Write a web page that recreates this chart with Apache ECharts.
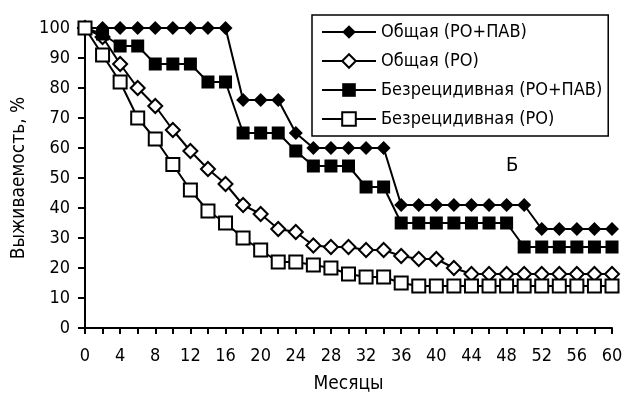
<!DOCTYPE html>
<html>
<head>
<meta charset="utf-8">
<script src="https://cdn.jsdelivr.net/npm/echarts@6/dist/echarts.min.js"></script>
<style>
  html, body { margin: 0; padding: 0; background: #fff; }
  #chart { width: 624px; height: 394px; }
</style>
</head>
<body>
<div id="chart"></div>
<script>
const months = [0, 2, 4, 6, 8, 10, 12, 14, 16, 18, 20, 22, 24, 26, 28, 30,
    32, 34, 36, 38, 40, 42, 44, 46, 48, 50, 52, 54, 56, 58, 60];

const seriesNames = [
    'Общая (РО+ПАВ)',
    'Общая (РО)',
    'Безрецидивная (РО+ПАВ)',
    'Безрецидивная (РО)',
];

const overallRoPav = [100, 100, 100, 100, 100, 100, 100, 100, 100, 76, 76, 76, 65, 60, 60, 60,
    60, 60, 41, 41, 41, 41, 41, 41, 41, 41, 33, 33, 33, 33, 33];
const overallRo = [100, 97, 88, 80, 74, 66, 59, 53, 48, 41, 38, 33, 32, 27.5, 27, 27,
    26, 26, 24, 23, 23, 20, 18, 18, 18, 18, 18, 18, 18, 18, 18];
const relapseFreeRoPav = [100, 98, 94, 94, 88, 88, 88, 82, 82, 65, 65, 65, 59, 54, 54, 54,
    47, 47, 35, 35, 35, 35, 35, 35, 35, 27, 27, 27, 27, 27, 27];
const relapseFreeRo = [100, 91, 82, 70, 63, 54.5, 46, 39, 35, 30, 26, 22, 22, 21, 20, 18,
    17, 17, 15, 14, 14, 14, 14, 14, 14, 14, 14, 14, 14, 14, 14];

const font = '"Liberation Sans Narrow", "Arial Narrow", "DejaVu Sans Condensed", sans-serif';

function pairs(values) {
    return months.map((m, i) => [m, values[i]]);
}

function lineSeries(name, values, symbol, filled) {
    return {
        name: name,
        type: 'line',
        data: pairs(values),
        symbol: symbol,
        symbolSize: symbol === 'diamond' ? 14 : 13,
        showSymbol: true,
        animation: false,
        lineStyle: {color: '#000', width: 2},
        itemStyle: {
            color: filled ? '#000' : '#fff',
            borderColor: '#000',
            borderWidth: filled ? 0 : 2,
        },
    };
}

const chart = echarts.init(document.getElementById('chart'));
chart.setOption({
    animation: false,
    backgroundColor: '#fff',
    textStyle: {fontFamily: font, color: '#000'},
    grid: {left: 85, right: 12, top: 28, bottom: 66, outerBoundsMode: 'none', containLabel: false},
    title: {
        text: 'Б',
        left: 501,
        top: 151,
        textStyle: {fontFamily: font, fontSize: 20, fontWeight: 'normal', color: '#000'},
    },
    legend: {
        orient: 'vertical',
        left: 312,
        top: 15,
        data: seriesNames,
        itemWidth: 54,
        itemHeight: 17,
        itemGap: 11,
        padding: [8, 6, 8, 9],
        borderColor: '#000',
        borderWidth: 1.5,
        textStyle: {fontFamily: font, fontSize: 18, color: '#000'},
    },
    xAxis: {
        type: 'value',
        min: 0,
        max: 60,
        interval: 2,
        name: 'Месяцы',
        nameLocation: 'middle',
        nameGap: 47,
        nameTextStyle: {fontFamily: font, fontSize: 19, color: '#000'},
        axisLine: {lineStyle: {color: '#000', width: 2}},
        axisTick: {show: true, length: 6, lineStyle: {color: '#000', width: 2}},
        axisLabel: {
            fontFamily: font, fontSize: 18, color: '#000', margin: 19,
            formatter: (v) => (v % 4 === 0 ? String(v) : ''),
        },
        splitLine: {show: false},
    },
    yAxis: {
        type: 'value',
        min: 0,
        max: 100,
        interval: 10,
        name: 'Выживаемость, %',
        nameLocation: 'middle',
        nameGap: 51,
        nameTextStyle: {fontFamily: font, fontSize: 19, color: '#000'},
        axisLine: {show: true, lineStyle: {color: '#000', width: 2}},
        axisTick: {show: true, length: 7, lineStyle: {color: '#000', width: 2}},
        axisLabel: {fontFamily: font, fontSize: 18, color: '#000', margin: 15},
        splitLine: {show: false},
    },
    series: [
        lineSeries(seriesNames[0], overallRoPav, 'diamond', true),
        lineSeries(seriesNames[1], overallRo, 'diamond', false),
        lineSeries(seriesNames[2], relapseFreeRoPav, 'rect', true),
        lineSeries(seriesNames[3], relapseFreeRo, 'rect', false),
    ],
});
</script>
</body>
</html>
